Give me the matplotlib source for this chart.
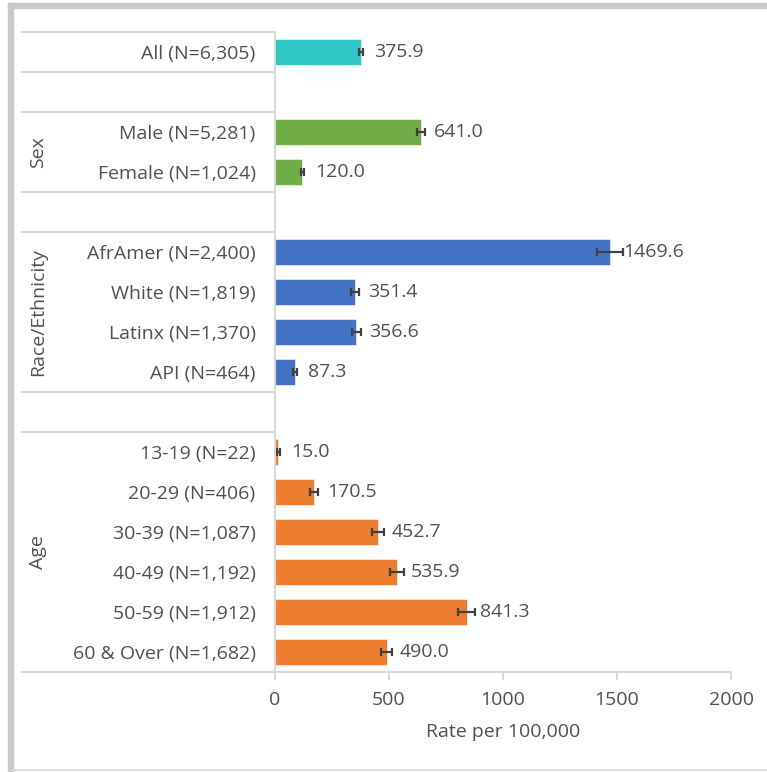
import numpy as np
import matplotlib.pyplot as plt
from matplotlib.patches import Rectangle
from matplotlib.lines import Line2D
import matplotlib.transforms as mtransforms

plt.rcParams['font.family'] = ['Open Sans', 'DejaVu Sans']

# groups of bars, top to bottom
groups = ['', 'Sex', 'Race/Ethnicity', 'Age']
labels = [
    ['All (N=6,305)'],
    ['Male (N=5,281)', 'Female (N=1,024)'],
    ['AfrAmer (N=2,400)', 'White (N=1,819)', 'Latinx (N=1,370)', 'API (N=464)'],
    ['13-19 (N=22)', '20-29 (N=406)', '30-39 (N=1,087)', '40-49 (N=1,192)',
     '50-59 (N=1,912)', '60 & Over (N=1,682)'],
]
rates = [
    [375.9],
    [641.0, 120.0],
    [1469.6, 351.4, 356.6, 87.3],
    [15.0, 170.5, 452.7, 535.9, 841.3, 490.0],
]
# 95% CI half-widths
errs = [
    [9.3],
    [17.3, 7.4],
    [58.8, 16.1, 18.9, 7.9],
    [6.3, 16.6, 26.9, 30.4, 37.7, 23.4],
]
colors = ['#2EC7C4', '#70AD47', '#4472C4', '#ED7D31']

txt = '#505050'
grid = '#D9D9D9'
fs = 14

fig = plt.figure(figsize=(7.67, 7.72), dpi=100)
ax = fig.add_axes([275/767, 100/772, 456/767, 640/772])

# one empty row between groups
pos = 0
ticks, ticklabels, seps, mids = [], [], [-0.5], []
for g, (labs, vals, ers, col) in enumerate(zip(labels, rates, errs, colors)):
    y = np.arange(pos, pos + len(labs))
    ax.barh(y, vals, height=0.65, color=col, edgecolor='white', linewidth=0.4)
    ax.errorbar(vals, y, xerr=ers, fmt='none', ecolor='#404040',
                elinewidth=1.6, capsize=3, capthick=1.6)
    for yy, v in zip(y, vals):
        ax.annotate(f'{v:.1f}', (v, yy), xytext=(9.5, 0), textcoords='offset points',
                    va='center', ha='left', fontsize=fs, color=txt)
    ticks += list(y)
    ticklabels += labs
    mids.append((y[0] + y[-1]) / 2)
    seps.append(y[-1] + 0.5)
    pos = y[-1] + 2
    if g < len(labels) - 1:
        seps.append(y[-1] + 1.5)

ax.set_ylim(15.5, -0.5)
ax.set_xlim(0, 2000)
ax.set_xticks([0, 500, 1000, 1500, 2000])
ax.set_yticks(ticks)
ax.set_yticklabels(ticklabels)
ax.tick_params(axis='y', length=0, pad=14, labelsize=fs, labelcolor=txt)
ax.tick_params(axis='x', length=6, width=1.5, color=grid, pad=8,
               labelsize=fs, labelcolor=txt)
ax.set_xlabel('Rate per 100,000', fontsize=fs, color=txt, labelpad=10)

for s in ['top', 'right']:
    ax.spines[s].set_visible(False)
for s in ['left', 'bottom']:
    ax.spines[s].set_color(grid)
    ax.spines[s].set_linewidth(1.5)

# category separators running into the label area
trans = mtransforms.blended_transform_factory(ax.transAxes, ax.transData)
for s in seps:
    ax.plot([-0.555, 0], [s, s], color=grid, lw=1.5, transform=trans, clip_on=False)

for name, m in zip(groups, mids):
    if name:
        ax.text(-0.52, m, name, transform=trans, rotation=90, ha='center',
                va='center', fontsize=fs, color=txt)

# outer frame
W, H = 767, 772
fig.patches.append(Rectangle((8/W, 0), 5/W, (H - 3)/H, transform=fig.transFigure,
                             color='#C8C8C8', zorder=0))
fig.patches.append(Rectangle((8/W, (H - 8)/H), (W - 8)/W, 5/H, transform=fig.transFigure,
                             color='#C8C8C8', zorder=0))
fig.lines.append(Line2D([13/W, 1], [2/H, 2/H], transform=fig.transFigure,
                        color=grid, lw=1.5))

fig.savefig('out.png', dpi=100)
